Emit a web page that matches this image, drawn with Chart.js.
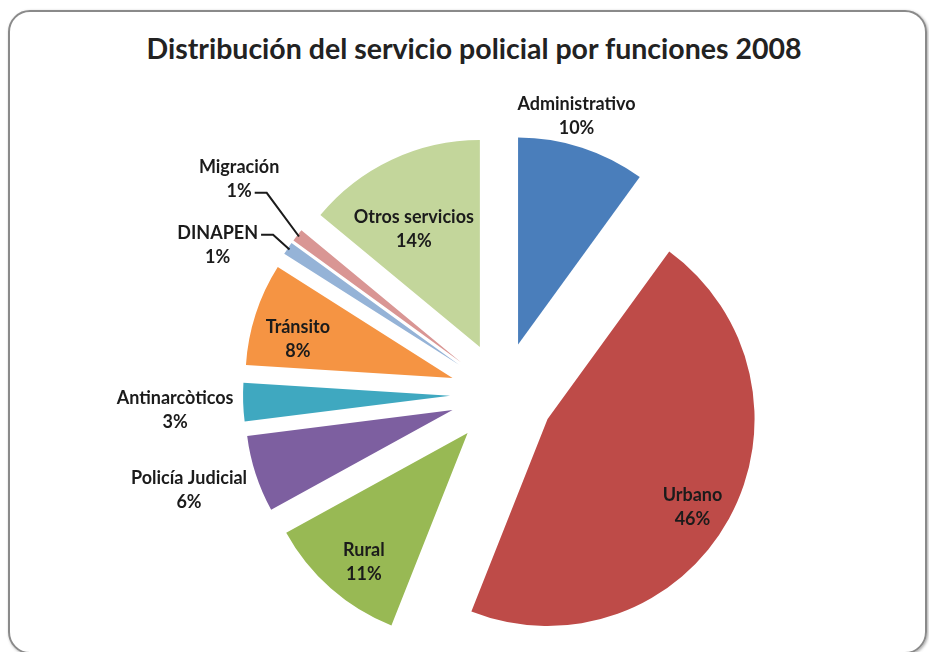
<!DOCTYPE html>
<html lang="es">
<head>
<meta charset="utf-8">
<script src="https://cdn.jsdelivr.net/npm/chart.js@4.4.1/dist/chart.umd.min.js"></script>
<style>
  html, body { margin: 0; padding: 0; background: #fff; }
  #wrap { position: relative; width: 929px; height: 652px; overflow: hidden; }
  #marco { position: absolute; left: 8px; top: 10px; width: 915px; height: 640px;
           border: 2px solid #8a8a8a; border-radius: 22px; box-shadow: 1px 1px 3px rgba(0,0,0,0.35); }
  #titulo { position: absolute; top: 31px; left: 0; width: 948px; text-align: center;
            font: bold 28.5px Lato, sans-serif; color: #222; }
  canvas { position: absolute; left: 0; top: 0; }
</style>
</head>
<body>
<div id="wrap">
  <div id="marco"></div>
  <div id="titulo">Distribución del servicio policial por funciones 2008</div>
  <canvas id="grafico" width="929" height="652"></canvas>
</div>
<script>
// --- datos ---
const categorias = ['Administrativo', 'Urbano', 'Rural', 'Policía Judicial', 'Antinarcòticos',
                    'Tránsito', 'DINAPEN', 'Migración', 'Otros servicios'];
const porcentajes = [10, 46, 11, 6, 3, 8, 1, 1, 14];
const colores = ['#4a7ebb', '#be4b48', '#98b954', '#7d5fa0', '#3fa8c0',
                 '#f59443', '#95b3d7', '#d99694', '#c3d69b'];

// --- estilo de etiquetas (distancia relativa al radio, giro en grados, línea guía) ---
const distEtiqueta = [1.14, 0.82, 0.80, 1.33, 1.33, 0.77, 1.30, 1.39, 0.65];
const giroEtiqueta = [-3, 2, -2, 1, -1, -3, -6.5, 1.5, -3];
const lineaGuia = [0, 0, 0, 0, 0, 0, 1, 2, 0];

const RADIO = 207;
const SEPARACION = 52;
const ALTO_LINEA = 24;

// dibuja cada porción desplazada hacia afuera (pastel explotado)
const explotar = {
    id: 'explotar',
    beforeDatasetDraw(chart, args) {
        const ctx = chart.ctx;
        args.meta.data.forEach(arc => {
            const medio = (arc.startAngle + arc.endAngle) / 2;
            ctx.save();
            ctx.translate(Math.cos(medio) * SEPARACION, Math.sin(medio) * SEPARACION);
            arc.draw(ctx);
            ctx.restore();
        });
        return false;
    }
};

const etiquetas = {
    id: 'etiquetas',
    afterDatasetsDraw(chart) {
        const ctx = chart.ctx;
        ctx.save();
        ctx.font = 'bold 18px Lato, sans-serif';
        ctx.fillStyle = '#1b1b1b';
        ctx.textAlign = 'center';
        ctx.textBaseline = 'middle';
        chart.getDatasetMeta(0).data.forEach((arc, i) => {
            const medioReal = (arc.startAngle + arc.endAngle) / 2;
            const medio = medioReal + giroEtiqueta[i] * Math.PI / 180;
            const d = SEPARACION + distEtiqueta[i] * arc.outerRadius;
            const x = arc.x + Math.cos(medio) * d;
            const y = arc.y + Math.sin(medio) * d;
            const linea1 = categorias[i];
            const linea2 = porcentajes[i] + '%';
            ctx.fillText(linea1, x, y - ALTO_LINEA / 2);
            ctx.fillText(linea2, x, y + ALTO_LINEA / 2);

            if (lineaGuia[i]) {
                const texto = lineaGuia[i] === 1 ? linea1 : linea2;
                const yl = lineaGuia[i] === 1 ? y - ALTO_LINEA / 2 + 2 : y + ALTO_LINEA / 2 + 2;
                const x0 = x + ctx.measureText(texto).width / 2 + 3;
                const borde = SEPARACION + arc.outerRadius * 0.99;
                ctx.beginPath();
                ctx.strokeStyle = '#1b1b1b';
                ctx.lineWidth = 2;
                ctx.moveTo(x0, yl);
                ctx.lineTo(x0 + 12, yl);
                ctx.lineTo(arc.x + Math.cos(medioReal) * borde, arc.y + Math.sin(medioReal) * borde);
                ctx.stroke();
            }
        });
        ctx.restore();
    }
};

new Chart(document.getElementById('grafico'), {
    type: 'pie',
    data: {
        labels: categorias,
        datasets: [{ data: porcentajes, backgroundColor: colores, borderWidth: 0 }]
    },
    options: {
        responsive: false,
        animation: false,
        events: [],
        radius: RADIO,
        layout: { padding: { left: 202, right: 127, top: 144, bottom: 8 } },
        plugins: { legend: { display: false }, tooltip: { enabled: false } }
    },
    plugins: [explotar, etiquetas]
});
</script>
</body>
</html>
